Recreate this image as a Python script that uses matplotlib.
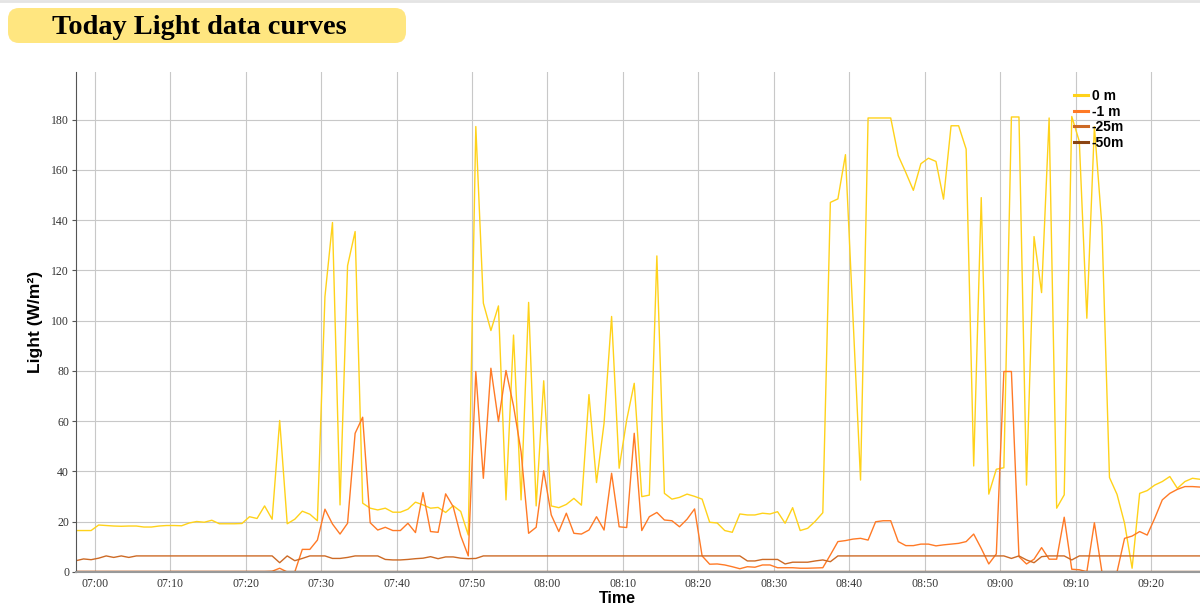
import matplotlib
matplotlib.use('Agg')
import matplotlib.pyplot as plt
import matplotlib.dates as mdates
from matplotlib.patches import FancyBboxPatch
from matplotlib.lines import Line2D
from matplotlib.transforms import IdentityTransform
import pandas as pd

# one reading per minute, 06:57:30 -> 09:26:30
times = pd.date_range('2024-01-01 06:57:30', periods=150, freq='min')

light_0m = [
    16.5, 16.5, 16.5, 18.7, 18.5, 18.3, 18.2, 18.3, 18.3, 17.9,
    17.9, 18.3, 18.5, 18.5, 18.4, 19.5, 20.1, 19.8, 20.6, 19.2,
    19.2, 19.2, 19.3, 22.0, 21.3, 26.3, 21.0, 60.3, 19.2, 21.0,
    24.2, 23.0, 20.4, 109.6, 139.1, 26.7, 121.9, 135.5, 27.4, 25.4,
    24.7, 25.4, 23.8, 23.8, 25.0, 27.8, 26.7, 25.4, 25.7, 23.7,
    26.4, 24.1, 14.7, 177.3, 107.0, 96.1, 105.9, 28.7, 94.3, 28.7,
    107.3, 26.3, 76.1, 26.3, 25.6, 26.9, 29.3, 26.6, 70.6, 35.6,
    59.2, 101.7, 41.3, 60.5, 75.1, 30.0, 30.6, 125.8, 31.3, 29.0,
    29.7, 31.0, 30.1, 29.0, 19.8, 19.5, 16.5, 15.8, 23.1, 22.7,
    22.7, 23.4, 23.1, 24.0, 19.4, 25.6, 16.5, 17.4, 20.2, 23.6,
    147.1, 148.5, 166.1, 101.0, 36.6, 180.7, 180.7, 180.7, 180.7, 165.7,
    159.0, 151.9, 162.5, 164.7, 163.4, 148.4, 177.6, 177.6, 168.3, 42.2,
    149.0, 31.0, 40.9, 41.5, 181.1, 181.1, 34.6, 133.5, 111.2, 180.7,
    25.4, 30.7, 181.3, 171.4, 101.0, 177.3, 137.5, 37.6, 30.9, 19.4,
    1.5, 31.3, 32.4, 34.6, 36.0, 38.0, 33.3, 36.0, 37.3, 36.9,
]

light_1m = [
    0.2, 0.2, 0.2, 0.2, 0.2, 0.2, 0.2, 0.2, 0.2, 0.2,
    0.2, 0.2, 0.2, 0.2, 0.2, 0.2, 0.2, 0.2, 0.2, 0.2,
    0.2, 0.2, 0.2, 0.2, 0.2, 0.2, 0.3, 1.5, 0.0, 0.0,
    9.0, 9.0, 12.7, 25.0, 19.1, 15.1, 19.4, 55.2, 61.6, 19.6,
    16.7, 17.8, 16.5, 16.5, 19.4, 15.7, 31.6, 16.1, 15.8, 31.1,
    26.0, 14.4, 6.4, 79.8, 37.3, 81.1, 59.9, 80.2, 66.1, 47.9,
    15.4, 17.8, 40.3, 22.7, 16.1, 23.4, 15.4, 15.1, 16.7, 22.0,
    16.7, 39.3, 18.0, 17.7, 55.2, 16.5, 22.0, 23.7, 20.7, 20.4,
    18.0, 21.0, 25.1, 6.4, 3.1, 3.2, 2.8, 2.1, 1.3, 2.1,
    1.9, 2.8, 2.8, 1.7, 1.7, 1.7, 1.5, 1.5, 1.6, 1.7,
    6.8, 12.1, 12.5, 13.1, 13.4, 12.7, 20.0, 20.4, 20.4, 12.1,
    10.5, 10.5, 11.1, 11.1, 10.4, 10.8, 11.1, 11.4, 12.1, 15.1,
    9.4, 3.2, 7.2, 79.8, 79.8, 6.1, 3.2, 5.1, 9.7, 5.1,
    5.1, 21.8, 1.1, 0.9, 0.1, 19.6, 0.0, 0.0, 0.0, 13.4,
    14.3, 16.1, 14.7, 21.4, 28.7, 31.3, 32.9, 34.0, 34.0, 33.8,
]

light_25m = [
    4.5, 5.2, 4.9, 5.5, 6.4, 5.8, 6.4, 5.8, 6.4, 6.4,
    6.4, 6.4, 6.4, 6.4, 6.4, 6.4, 6.4, 6.4, 6.4, 6.4,
    6.4, 6.4, 6.4, 6.4, 6.4, 6.4, 6.4, 3.7, 6.4, 4.5,
    5.4, 6.4, 6.4, 6.4, 5.4, 5.4, 5.8, 6.4, 6.4, 6.4,
    6.4, 5.0, 4.8, 4.8, 5.0, 5.3, 5.5, 6.1, 5.3, 6.0,
    6.0, 5.5, 5.3, 5.4, 6.4, 6.4, 6.4, 6.4, 6.4, 6.4,
    6.4, 6.4, 6.4, 6.4, 6.4, 6.4, 6.4, 6.4, 6.4, 6.4,
    6.4, 6.4, 6.4, 6.4, 6.4, 6.4, 6.4, 6.4, 6.4, 6.4,
    6.4, 6.4, 6.4, 6.4, 6.4, 6.4, 6.4, 6.4, 6.4, 4.4,
    4.4, 5.0, 5.0, 5.0, 3.2, 3.9, 3.9, 3.9, 4.4, 4.8,
    4.1, 6.4, 6.4, 6.4, 6.4, 6.4, 6.4, 6.4, 6.4, 6.4,
    6.4, 6.4, 6.4, 6.4, 6.4, 6.4, 6.4, 6.4, 6.4, 6.4,
    6.4, 6.4, 6.4, 6.4, 5.4, 6.4, 4.8, 3.7, 6.1, 6.4,
    6.4, 6.4, 4.8, 6.4, 6.4, 6.4, 6.4, 6.4, 6.4, 6.4,
    6.4, 6.4, 6.4, 6.4, 6.4, 6.4, 6.4, 6.4, 6.4, 6.4,
]

light_50m = [
    0.2, 0.2, 0.2, 0.2, 0.2, 0.2, 0.2, 0.2, 0.2, 0.2,
    0.2, 0.2, 0.2, 0.2, 0.2, 0.2, 0.2, 0.2, 0.2, 0.2,
    0.2, 0.2, 0.2, 0.2, 0.2, 0.2, 0.2, 0.2, 0.2, 0.2,
    0.2, 0.2, 0.2, 0.2, 0.2, 0.2, 0.2, 0.2, 0.2, 0.2,
    0.2, 0.2, 0.2, 0.2, 0.2, 0.2, 0.2, 0.2, 0.2, 0.2,
    0.2, 0.2, 0.2, 0.2, 0.2, 0.2, 0.2, 0.2, 0.2, 0.2,
    0.2, 0.2, 0.2, 0.2, 0.2, 0.2, 0.2, 0.2, 0.2, 0.2,
    0.2, 0.2, 0.2, 0.2, 0.2, 0.2, 0.2, 0.2, 0.2, 0.2,
    0.2, 0.2, 0.2, 0.2, 0.2, 0.2, 0.2, 0.2, 0.2, 0.2,
    0.2, 0.2, 0.2, 0.2, 0.2, 0.2, 0.2, 0.2, 0.2, 0.2,
    0.2, 0.2, 0.2, 0.2, 0.2, 0.2, 0.2, 0.2, 0.2, 0.2,
    0.2, 0.2, 0.2, 0.2, 0.2, 0.2, 0.2, 0.2, 0.2, 0.2,
    0.2, 0.2, 0.2, 0.2, 0.2, 0.2, 0.2, 0.2, 0.2, 0.2,
    0.2, 0.2, 0.2, 0.2, 0.2, 0.2, 0.2, 0.2, 0.2, 0.2,
    0.2, 0.2, 0.2, 0.2, 0.2, 0.2, 0.2, 0.2, 0.2, 0.2,
]

series_names = ['0 m', '-1 m', '-25m', '-50m']
series_colors = ['#FFD21A', '#FF7A26', '#CD6A25', '#8B4513']
y_ticks = [0, 20, 40, 60, 80, 100, 120, 140, 160, 180]

plt.rcParams['font.family'] = ['Liberation Serif', 'DejaVu Serif']

fig = plt.figure(figsize=(12, 6.12), dpi=100)
ax = fig.add_axes([76 / 1200, 1 - 572 / 612, 1124 / 1200, 500 / 612])

for vals, name, col in zip([light_0m, light_1m, light_25m, light_50m], series_names, series_colors):
    ax.plot(times, vals, color=col, lw=1.0, label=name)

ax.set_xlim(times[0], times[-1])
ax.set_ylim(0, 199)
ax.set_yticks(y_ticks)
ax.xaxis.set_major_locator(mdates.MinuteLocator(byminute=range(0, 60, 10)))
ax.xaxis.set_major_formatter(mdates.DateFormatter('%H:%M'))
ax.grid(True, color='#c8c8c8', lw=0.8)
ax.set_axisbelow(True)
ax.tick_params(axis='both', labelsize=8.5, colors='#333333')
ax.tick_params(axis='x', length=0, pad=4)
ax.tick_params(axis='y', length=3, pad=2, color='#555555')

for s in ['top', 'right']:
    ax.spines[s].set_visible(False)
ax.spines['left'].set_color('#555555')
ax.spines['bottom'].set_color('#999999')
ax.spines['bottom'].set_linewidth(1.5)

ax.set_ylabel('Light (W/m²)', family='Liberation Sans', weight='bold', fontsize=12.5, color='black')
ax.yaxis.set_label_coords(-0.0294, 0.5)
ax.set_xlabel('Time', family='Liberation Sans', weight='bold', fontsize=11.5, color='black')
ax.xaxis.set_label_coords(0.4818, -0.038)

leg = ax.legend(loc='upper left', bbox_to_anchor=(1067 / 1200, 1 - 82 / 612), bbox_transform=fig.transFigure,
                frameon=False, handlelength=1.0, handletextpad=0.3, labelspacing=0.12, borderpad=0,
                prop={'family': 'Liberation Sans', 'weight': 'bold', 'size': 10})
for ln in leg.get_lines():
    ln.set_linewidth(2.2)

# title badge
badge = FancyBboxPatch((8, 612 - 43), 398, 35, boxstyle='round,pad=0,rounding_size=11',
                       transform=IdentityTransform(), facecolor='#FFE680', edgecolor='none')
fig.patches.append(badge)
fig.text(199 / 1200, 1 - 27 / 612, 'Today Light data curves', ha='center', va='center',
         family='Liberation Serif', weight='bold', fontsize=20.4, color='black')

# thin page border at the top
fig.add_artist(Line2D([0, 1], [1 - 1 / 612, 1 - 1 / 612], transform=fig.transFigure, color='#e4e4e4', lw=2))

fig.savefig('out.png', dpi=100)
